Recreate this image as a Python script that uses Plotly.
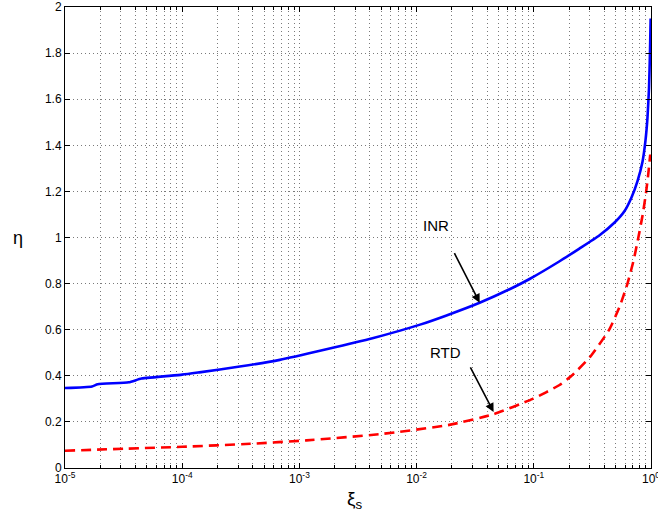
import plotly.graph_objects as go

# INR (blue solid)
inr_x = [1e-5, 1.7e-5, 1.9e-5, 3.5e-5, 4.5e-5, 1e-4, 1.4e-4, 3.1e-4, 6.8e-4, 1.7e-3,
         4.2e-3, 1.07e-2, 1.8e-2, 3.45e-2, 6.6e-2, 9.2e-2, 0.166, 0.245, 0.364, 0.489,
         0.595, 0.683, 0.767, 0.847, 0.897, 0.933, 0.962, 0.98, 0.993]
inr_y = [0.347, 0.354, 0.363, 0.372, 0.388, 0.405, 0.415, 0.44, 0.469, 0.515,
         0.563, 0.622, 0.662, 0.717, 0.782, 0.82, 0.897, 0.952, 1.01, 1.065,
         1.115, 1.175, 1.245, 1.33, 1.42, 1.52, 1.65, 1.80, 1.95]

# RTD (red dashed)
rtd_x = [1e-5, 3.4e-5, 1e-4, 3.8e-4, 1.15e-3, 4.9e-3, 1.9e-2, 4.5e-2, 9.8e-2, 0.166,
         0.21, 0.30, 0.44, 0.54, 0.63, 0.71, 0.78, 0.85, 0.91, 0.95, 0.985]
rtd_y = [0.075, 0.084, 0.092, 0.105, 0.12, 0.147, 0.187, 0.233, 0.30, 0.36,
         0.40, 0.48, 0.60, 0.70, 0.80, 0.90, 1.00, 1.10, 1.20, 1.28, 1.36]

decades = [-5, -4, -3, -2, -1, 0]
x_tickvals = [10.0 ** d for d in decades]
x_ticktext = [f"10<sup>{d}</sup>" for d in decades]
x_minorvals = [m * 10.0 ** d for d in decades[:-1] for m in range(2, 10)]

y_tickvals = [0, 0.2, 0.4, 0.6, 0.8, 1, 1.2, 1.4, 1.6, 1.8, 2]
y_ticktext = ["0", "0.2", "0.4", "0.6", "0.8", "1", "1.2", "1.4", "1.6", "1.8", "2"]

font = "Liberation Sans, Arial, Helvetica, sans-serif"

fig = go.Figure()
fig.add_trace(go.Scatter(x=inr_x, y=inr_y, mode="lines", name="INR",
                         line=dict(color="#0000ff", width=2.6, shape="spline", smoothing=0.5)))
fig.add_trace(go.Scatter(x=rtd_x, y=rtd_y, mode="lines", name="RTD",
                         line=dict(color="#ff0000", width=2.6, dash="10px,6px",
                                   shape="spline", smoothing=0.5)))

grid = dict(showgrid=True, gridcolor="#7a7a7a", gridwidth=1, griddash="1px,3px")

fig.update_xaxes(type="log", range=[-5, 0], tickmode="array",
                 tickvals=x_tickvals, ticktext=x_ticktext, tickangle=0,
                 ticklabeloverflow="allow",
                 ticks="inside", ticklen=5, tickcolor="black", showline=True,
                 linecolor="black", linewidth=1, mirror="ticks", zeroline=False,
                 automargin=False,
                 minor=dict(tickmode="array", tickvals=x_minorvals, ticks="inside",
                            ticklen=3, tickcolor="black", showgrid=True,
                            gridcolor="#7a7a7a", gridwidth=1, griddash="1px,3px"),
                 tickfont=dict(family=font, size=12, color="black"), **grid)
fig.update_yaxes(range=[0, 2], tickvals=y_tickvals, ticktext=y_ticktext,
                 ticks="inside", ticklen=5, tickcolor="black", showline=True,
                 linecolor="black", linewidth=1, mirror="ticks", zeroline=False,
                 automargin=False,
                 tickfont=dict(family=font, size=12, color="black"), **grid)

annotations = [
    dict(x=-1.837, y=1.054, xref="x", yref="y", text="INR", showarrow=False,
         font=dict(family=font, size=15, color="black")),
    dict(x=-1.462, y=0.717, xref="x", yref="y", text="", showarrow=True,
         ax=-26, ay=-51, arrowhead=2, arrowsize=1.1, arrowwidth=1.6, arrowcolor="black"),
    dict(x=-1.752, y=0.499, xref="x", yref="y", text="RTD", showarrow=False,
         font=dict(family=font, size=15, color="black")),
    dict(x=-1.343, y=0.243, xref="x", yref="y", text="", showarrow=True,
         ax=-24, ay=-46, arrowhead=2, arrowsize=1.1, arrowwidth=1.6, arrowcolor="black"),
    dict(x=0.495, y=-0.04, xref="paper", yref="paper", text="ξ<sub>s</sub>",
         showarrow=False, yanchor="top", font=dict(family=font, size=19, color="black")),
    dict(x=-0.093, y=0.5, xref="paper", yref="paper", text="η",
         showarrow=False, font=dict(family=font, size=18, color="black")),
]

fig.update_layout(
    width=658, height=516,
    margin=dict(l=65, r=7, t=7, b=48),
    paper_bgcolor="white", plot_bgcolor="white",
    showlegend=False,
    annotations=annotations,
    font=dict(family=font, color="black"),
)

fig.write_html("out.html", config={"displayModeBar": False},
               post_script="document.body.style.margin='0';document.body.style.padding='0';")
